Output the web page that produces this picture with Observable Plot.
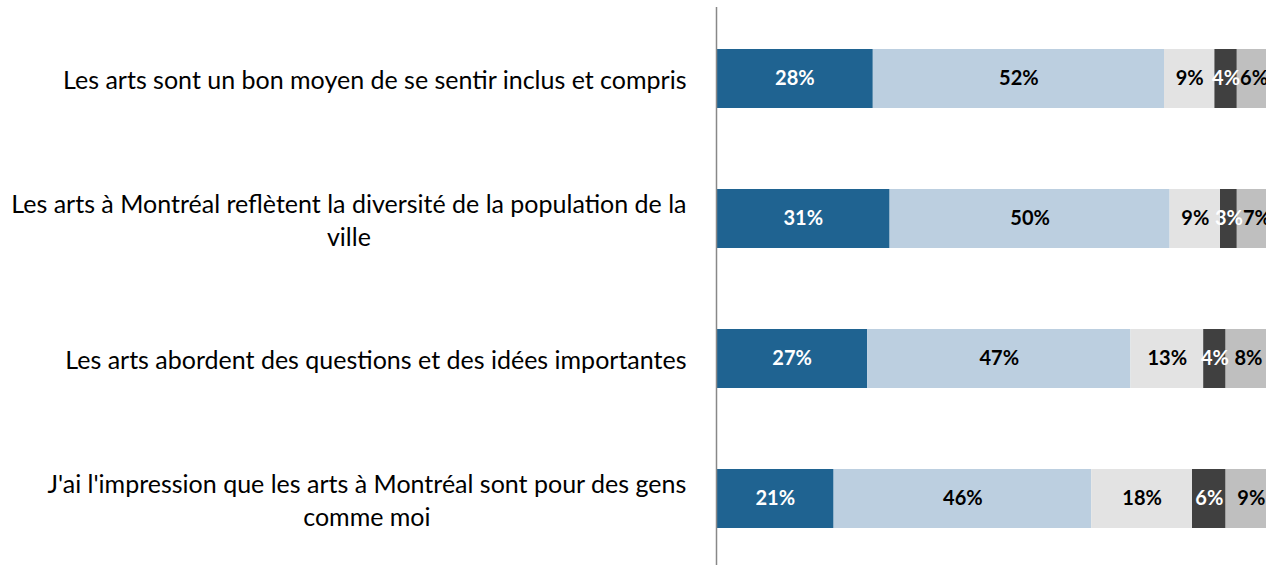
<!DOCTYPE html>
<html>
<head>
<meta charset="utf-8">
<script src="https://cdn.jsdelivr.net/npm/d3@7"></script>
<script src="https://cdn.jsdelivr.net/npm/@observablehq/plot@0.6"></script>
<style>
  html, body { margin: 0; padding: 0; background: #fff; overflow: hidden; }
  #chart { width: 1266px; height: 565px; overflow: hidden; }
  #chart svg { max-width: none !important; }
</style>
</head>
<body>
<div id="chart"></div>
<script>
const questions = [
  "Les arts sont un bon moyen de se sentir inclus et compris",
  "Les arts à Montréal reflètent la diversité de la population de la\nville",
  "Les arts abordent des questions et des idées importantes",
  "J'ai l'impression que les arts à Montréal sont pour des gens\ncomme moi"
];
const categories = ["Tout à fait d'accord", "Plutôt d'accord", "Plutôt en désaccord", "Tout à fait en désaccord", "Ne sait pas"];
const colors = ["#1f6391", "#bccfe0", "#e3e3e3", "#404040", "#bfbfbf"];
const labelColors = ["#ffffff", "#000000", "#000000", "#ffffff", "#000000"];
const values = [
  [28, 52, 9, 4, 6],
  [31, 50, 9, 3, 7],
  [27, 47, 13, 4, 8],
  [21, 46, 18, 6, 9]
];

const data = [];
questions.forEach((q, i) => categories.forEach((c, j) => data.push({question: q, category: c, value: values[i][j], ci: j})));

const labelSize = 25;
const ctx = document.createElement("canvas").getContext("2d");
ctx.font = labelSize + "px Lato";
const labelMarks = questions.map(q => {
  const lines = q.split("\n");
  const w = Math.max(...lines.map(l => ctx.measureText(l).width));
  const multi = lines.length > 1;
  return Plot.text([q], {
    y: d => d,
    text: d => d,
    frameAnchor: "left",
    textAnchor: multi ? "middle" : "end",
    dx: multi ? -30 - w / 2 : -30,
    fontSize: labelSize,
    fontFamily: "Lato",
    lineHeight: 1.3,
    fill: "#000"
  });
});

const chart = Plot.plot({
  width: 1290,
  height: 565,
  marginLeft: 716,
  marginRight: 14,
  marginTop: 7,
  marginBottom: 0,
  x: {domain: [0, 100], axis: null},
  y: {domain: questions, range: [7, 569], paddingInner: 0.58, paddingOuter: 0.29, axis: null},
  color: {domain: categories, range: colors},
  style: {fontFamily: "Lato", background: "#fff"},
  marks: [
    Plot.barX(data, {x: "value", y: "question", fill: "category", order: null}),
    Plot.textX(data, Plot.stackX({
      x: "value", y: "question", order: null,
      text: d => d.value + "%",
      fill: d => labelColors[d.ci],
      fontSize: 20, fontWeight: "bold", fontFamily: "Lato"
    })),
    Plot.ruleX([0], {stroke: "#888", strokeWidth: 1.5}),
    ...labelMarks
  ]
});
document.getElementById("chart").appendChild(chart);
</script>
</body>
</html>
